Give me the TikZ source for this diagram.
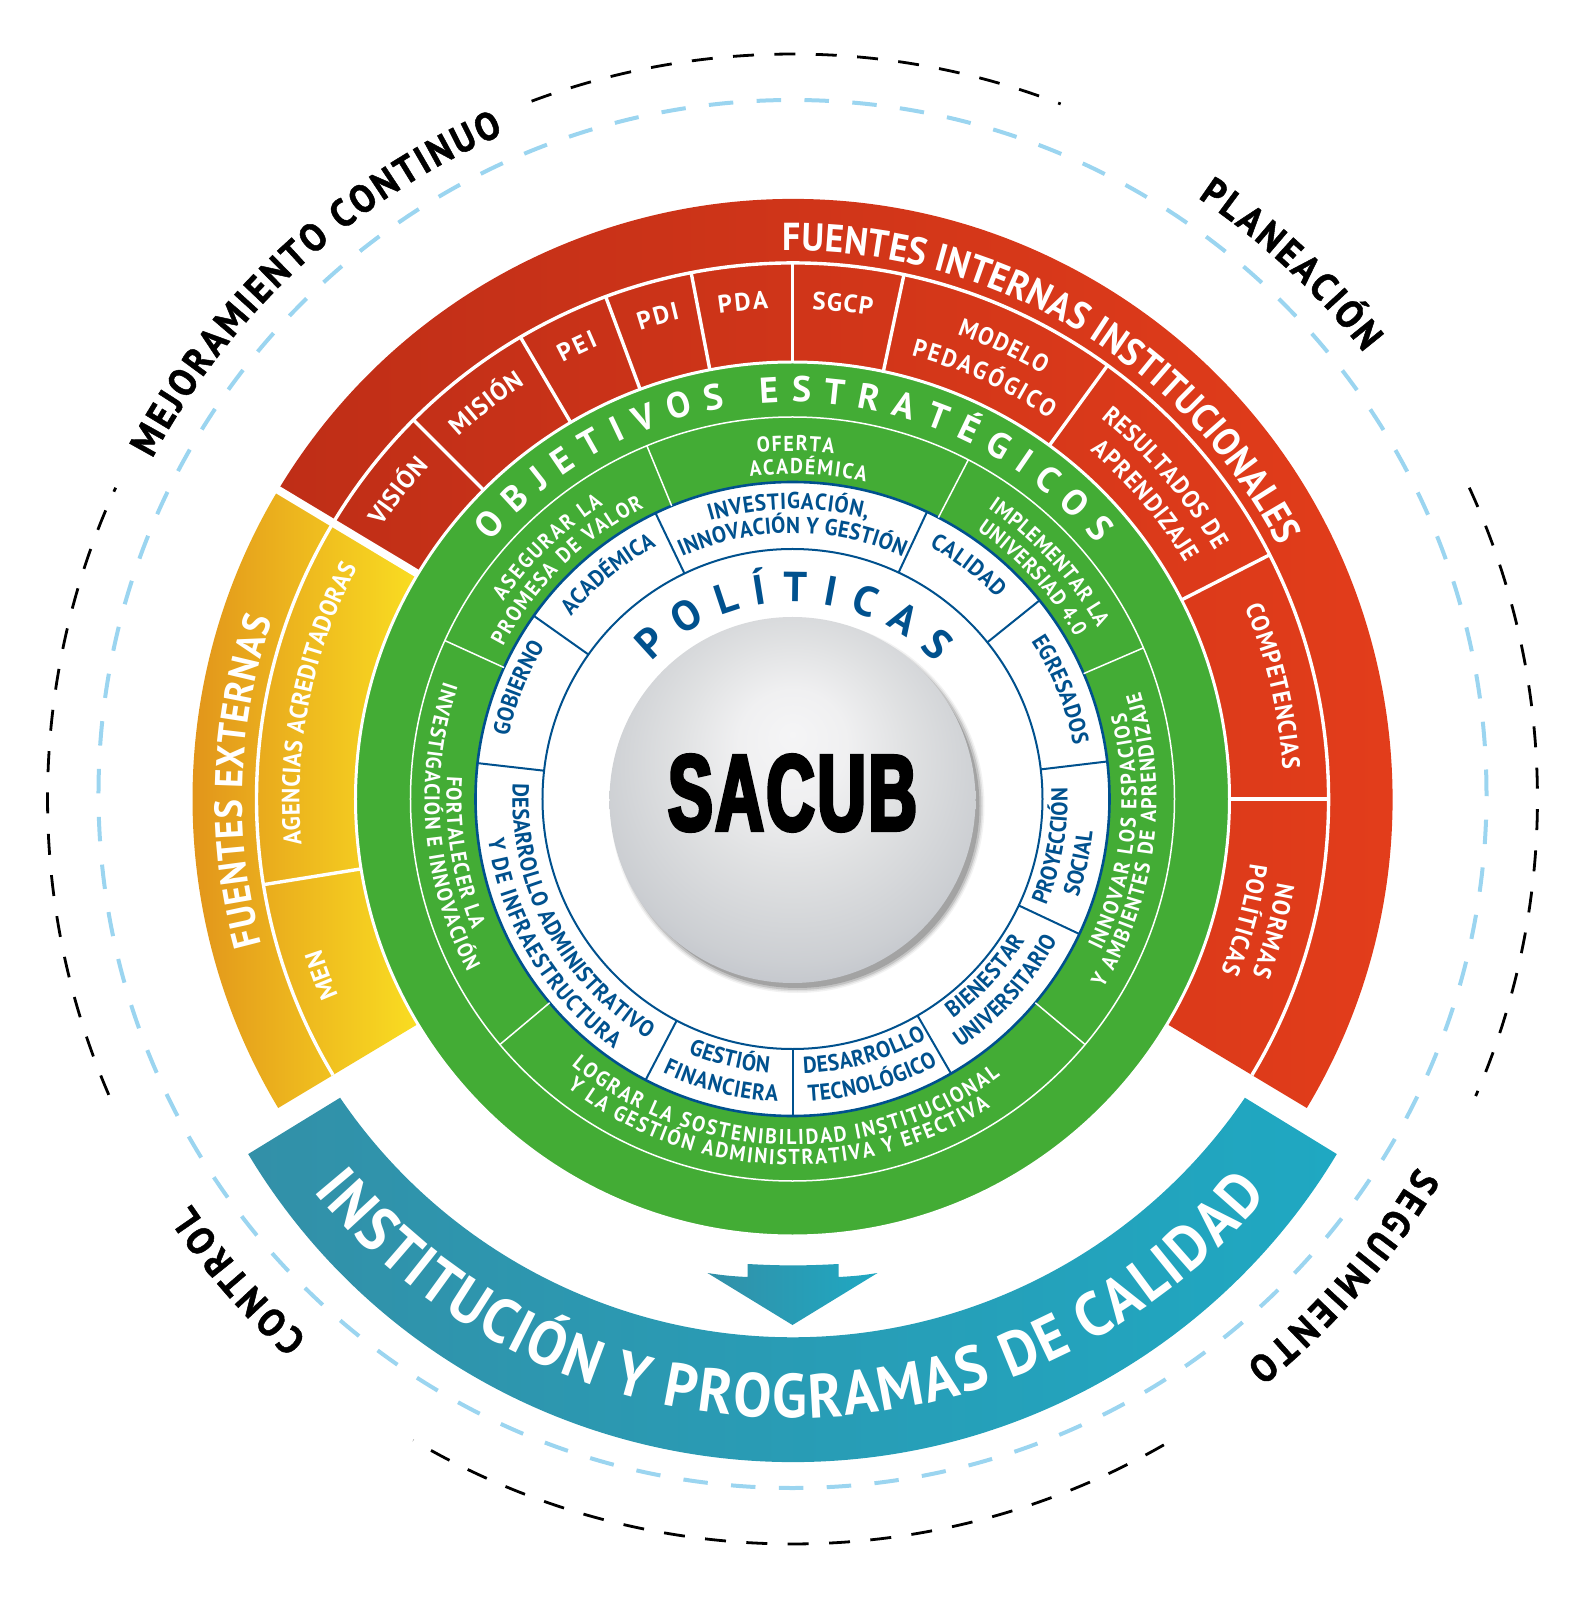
\documentclass[tikz,border=0pt]{standalone}
\usepackage{fontspec}
\setmainfont{PT Sans}
\newfontfamily\labelfamily[FakeStretch=0.92]{PT Sans}
\newfontfamily\heavyfamily[FakeStretch=0.92,FakeBold=1.2]{PT Sans}
\newfontfamily\sacubfont[FakeStretch=0.62,FakeBold=3.5,LetterSpace=2.5]{Liberation Sans Bold}
\usetikzlibrary{decorations.text, calc}

\definecolor{ringgreen}{HTML}{43AC35}
\definecolor{ringblue}{HTML}{00518E}
\definecolor{dashblue}{HTML}{9BD5F0}
\definecolor{ringyellowL}{HTML}{DF8C1A}
\definecolor{ringyellowR}{HTML}{FADF22}
\definecolor{ringredL}{HTML}{BF2E17}
\definecolor{ringredM}{HTML}{C73018}
\definecolor{ringredR}{HTML}{E53E1B}
\definecolor{ringtealL}{HTML}{3290A8}
\definecolor{ringtealM}{HTML}{21A0BA}
\definecolor{ringtealR}{HTML}{1FA8C2}

\pgfdeclareradialshading{spheregrey}{\pgfpoint{0bp}{9bp}}{
	rgb(0bp)=(0.96,0.96,0.965);
	rgb(7.5bp)=(0.94,0.94,0.945);
	rgb(16bp)=(0.875,0.88,0.885);
	rgb(26.5bp)=(0.80,0.81,0.825);
	rgb(34bp)=(0.72,0.735,0.77);
	rgb(50bp)=(0.72,0.735,0.77)}

\tikzset{
	redline/.style = {draw=white, line width=3.4pt},
	greenline/.style = {draw=white, line width=1.5pt},
	blueline/.style = {draw=ringblue, line width=2pt},
	bluedash/.style = {draw=dashblue, line width=4pt, dash pattern=on 24.5pt off 23.4pt},
	blackdash/.style = {draw=black, line width=2.8pt, dash pattern=on 21pt off 20.4pt}
}

% Fonts of the curved texts.
\newcommand{\blackfont}{\heavyfamily\fontsize{39}{39}\selectfont\bfseries\color{black}}
\newcommand{\bigfont}{\labelfamily\fontsize{39}{39}\selectfont\bfseries\color{white}}
\newcommand{\redfont}{\labelfamily\fontsize{25}{25}\selectfont\bfseries\color{white}}
\newcommand{\tagfont}{\fontsize{25}{25}\selectfont\bfseries\color{white}}
\newcommand{\greenfont}{\labelfamily\fontsize{21.5}{21.5}\selectfont\bfseries\color{white}}
\newcommand{\bluefont}{\labelfamily\fontsize{23}{23}\selectfont\bfseries\color{ringblue}}
\newcommand{\objfont}{\fontsize{36}{36}\selectfont\bfseries\color{white}}
\newcommand{\polfont}{\fontsize{42}{42}\selectfont\bfseries\color{ringblue}}
\newcommand{\tealfont}{\labelfamily\fontsize{62}{62}\selectfont\bfseries\color{white}}

% font, start angle, end angle, radius, text
\newcommand{\arclabel}[5]{
	\path [decorate, decoration={text along path, text align={fit to path}, text={|#1|#5}}] (#2:#4) arc (#2:#3:#4);
}

\begin{document}
\begin{tikzpicture} [x=1pt, y=1pt]

	\useasboundingbox (-792.5,-801) rectangle (791.5,799);

	% Define coordinates.

	%sphere
	\coordinate (sphere) at (0,-1);

	%teal band
	\coordinate (bandOuter) at (0,-28);
	\coordinate (bandInner) at (0,8.7);

	%arrow
	\coordinate (headLeft) at (-85,-474);
	\coordinate (headRight) at (85,-474);
	\coordinate (tip) at (0,-526);
	\coordinate (shaftLeft) at (-45,-465);
	\coordinate (shaftRight) at (46,-465);
	\coordinate (jointLeft) at (-45,-478);
	\coordinate (jointRight) at (46,-478);

% Draw dashed circles.

	\draw [bluedash] (0,5) circle (694);
	\draw [blackdash] (110.5:745) arc (110.5:68.9:745);
	\draw [blackdash] (24.7:745) arc (24.7:-23.5:745);
	\draw [blackdash] (-60.1:745) arc (-60.1:-120.6:745);
	\draw [blackdash] (203.4:745) arc (203.4:155.3:745);

% Colour in.

	\shade [left color=ringyellowL, right color=ringyellowR] (211:600) arc (211:149:600) -- (149:430) arc (149:211:430) -- cycle;
	\shade [left color=ringredL, middle color=ringredM, right color=ringredR] (149:600) arc (149:-31:600) -- (-31:430) arc (-31:149:430) -- cycle;
	\shade [left color=ringtealL, middle color=ringtealM, right color=ringtealR] ($(bandOuter)+(211:635)$) arc (211:329:635) -- ($(bandInner)+(-34.2:547)$) arc (-34.2:-145.8:547) -- cycle;
	\shade [left color=ringtealL, right color=ringtealR] (headLeft) to [bend right=3] (jointLeft) -- (shaftLeft) to [bend right=3] (shaftRight) -- (jointRight) to [bend right=3] (headRight) -- (tip) -- cycle;
	\draw [draw=white, line width=8pt] (149:425) -- (149:606);

	\fill [fill=ringgreen, draw=white, line width=3pt] (0,0) circle (437);
	\draw [greenline] (0,0) circle (382);
	\fill [fill=white, draw=ringblue, line width=2.6pt] (0,0) circle (317);
	\draw [blueline] (0,0) circle (250);

	%sphere shadow
	\fill [black, opacity=.05] (5,-7) circle (187);
	\fill [black, opacity=.08] (5,-7) circle (185.5);
	\fill [black, opacity=.12] (5,-7) circle (184);
	\fill [black, opacity=.16] (5,-7) circle (182);
	\shade [shading=spheregrey] (sphere) circle (183);

% Draw lines.

	%fuentes
	\draw [redline] (149:536) arc (149:-31:536);
	\draw [redline] (211:536) arc (211:149:536);
	\draw [redline] (135:437) -- (135:536);
	\draw [redline] (120.5:437) -- (120.5:536);
	\draw [redline] (110.4:437) -- (110.4:536);
	\draw [redline] (100.9:437) -- (100.9:536);
	\draw [redline] (90:437) -- (90:536);
	\draw [redline] (78:437) -- (78:536);
	\draw [redline] (54:437) -- (54:536);
	\draw [redline] (27.1:437) -- (27.1:536);
	\draw [redline] (0:437) -- (0:536);
	\draw [redline] (189.2:437) -- (189.2:536);

	%objetivos
	\draw [greenline] (112.4:317) -- (112.4:382);
	\draw [greenline] (62.6:317) -- (62.6:382);
	\draw [greenline] (23.3:317) -- (23.3:382);
	\draw [greenline] (-40:317) -- (-40:382);
	\draw [greenline] (-140:317) -- (-140:382);
	\draw [greenline] (155.5:317) -- (155.5:382);

	%politicas
	\draw [blueline] (115.6:250) -- (115.6:317);
	\draw [blueline] (64.9:250) -- (64.9:317);
	\draw [blueline] (38.8:250) -- (38.8:317);
	\draw [blueline] (6.8:250) -- (6.8:317);
	\draw [blueline] (-25.2:250) -- (-25.2:317);
	\draw [blueline] (-60:250) -- (-60:317);
	\draw [blueline] (-90:250) -- (-90:317);
	\draw [blueline] (-117.6:250) -- (-117.6:317);
	\draw [blueline] (173.5:250) -- (173.5:317);
	\draw [blueline] (144.7:250) -- (144.7:317);

% Draw labels.

	\node (sacub) at (0,6) {\sacubfont\fontsize{108}{108}\selectfont SACUB};

	\arclabel{\blackfont}{152}{113.5}{725}{MEJORAMIENTO CONTINUO}
	\arclabel{\blackfont}{56}{38}{725}{PLANEACIÓN}
	\arclabel{\blackfont}{-30.5}{-51.3}{725}{SEGUIMIENTO}
	\arclabel{\blackfont}{228}{214}{725}{CONTROL}

	\arclabel{\bigfont}{91}{27.5}{548}{FUENTES INTERNAS INSTITUCIONALES}
	\arclabel{\bigfont}{195.3}{161}{550}{FUENTES EXTERNAS}
	\arclabel{\tealfont}{219.3}{320.2}{619}{INSTITUCIÓN Y PROGRAMAS DE CALIDAD}

	%fuentes
	\arclabel{\tagfont}{146.5}{137.5}{493}{VISIÓN}
	\arclabel{\tagfont}{132.6}{122.8}{493}{MISIÓN}
	\arclabel{\tagfont}{117.8}{113.2}{493}{PEI}
	\arclabel{\tagfont}{108}{103.2}{493}{PDI}
	\arclabel{\tagfont}{98.6}{92.8}{491}{PDA}
	\arclabel{\tagfont}{87.7}{80.7}{490}{SGCP}
	\arclabel{\redfont}{70.5}{59.5}{493}{MODELO}
	\arclabel{\redfont}{75}{56}{459}{PEDAGÓGICO}
	\arclabel{\redfont}{51}{30.5}{490}{RESULTADOS DE}
	\arclabel{\redfont}{49.5}{31}{458}{APRENDIZAJE}
	\arclabel{\redfont}{23}{3.4}{491}{COMPETENCIAS}
	\arclabel{\redfont}{-9.8}{-20.9}{492}{NORMAS}
	\arclabel{\redfont}{-8}{-22}{462}{POLÍTICAS}
	\arclabel{\redfont}{185.3}{152}{493}{AGENCIAS ACREDITADORAS}
	\arclabel{\tagfont}{203.4}{197.8}{495}{MEN}

	%objetivos
	\arclabel{\objfont}{139.5}{40}{397}{OBJETIVOS ESTRATÉGICOS}
	\arclabel{\greenfont}{95.8}{83.2}{348}{OFERTA}
	\arclabel{\greenfont}{97.5}{77}{325}{ACADÉMICA}
	\arclabel{\greenfont}{145.7}{122.7}{350}{ASEGURAR LA}
	\arclabel{\greenfont}{152.2}{117}{327}{PROMESA DE VALOR}
	\arclabel{\greenfont}{56}{29.3}{350}{IMPLEMENTAR LA}
	\arclabel{\greenfont}{55.5}{29.8}{326}{UNIVERSIAD 4.0}
	\arclabel{\greenfont}{-26.2}{14.6}{344}{INNOVAR LOS ESPACIOS}
	\arclabel{\greenfont}{-31.4}{17.2}{364}{Y AMBIENTES DE APRENDIZAJE}
	\arclabel{\greenfont}{230.3}{306.9}{346}{LOGRAR LA SOSTENIBILIDAD INSTITUCIONAL}
	\arclabel{\greenfont}{232}{302.7}{366}{Y LA GESTIÓN ADMINISTRATIVA Y EFECTIVA}
	\arclabel{\greenfont}{176.2}{202.2}{346}{FORTALECER LA}
	\arclabel{\greenfont}{161.4}{208}{368}{INVESTIGACIÓN E INNOVACIÓN}

	%politicas
	\arclabel{\polfont}{135.8}{43.5}{197}{POLÍTICAS}
	\arclabel{\bluefont}{106.5}{75}{290}{INVESTIGACIÓN,}
	\arclabel{\bluefont}{114.5}{65.5}{266}{INNOVACIÓN Y GESTIÓN}
	\arclabel{\bluefont}{140.5}{118.3}{287}{ACADÉMICA}
	\arclabel{\bluefont}{61.5}{44.5}{287}{CALIDAD}
	\arclabel{\bluefont}{33.5}{10.8}{286}{EGRESADOS}
	\arclabel{\bluefont}{-22.8}{2.2}{275}{PROYECCIÓN}
	\arclabel{\bluefont}{-19}{-6.3}{302}{SOCIAL}
	\arclabel{\bluefont}{-53.9}{-31.3}{272}{BIENESTAR}
	\arclabel{\bluefont}{-56}{-28.1}{300}{UNIVERSITARIO}
	\arclabel{\bluefont}{-87.7}{-60.8}{275}{DESARROLLO}
	\arclabel{\bluefont}{-87}{-61.3}{303}{TECNOLÓGICO}
	\arclabel{\bluefont}{247.7}{265.1}{275}{GESTIÓN}
	\arclabel{\bluefont}{244.6}{267.2}{303}{FINANCIERA}
	\arclabel{\bluefont}{176.8}{238.9}{280}{DESARROLLO ADMINISTRATIVO}
	\arclabel{\bluefont}{187.6}{234.4}{307}{Y DE INFRAESTRUCTURA}
	\arclabel{\bluefont}{167.5}{149}{291}{GOBIERNO}

\end{tikzpicture}
\end{document}
